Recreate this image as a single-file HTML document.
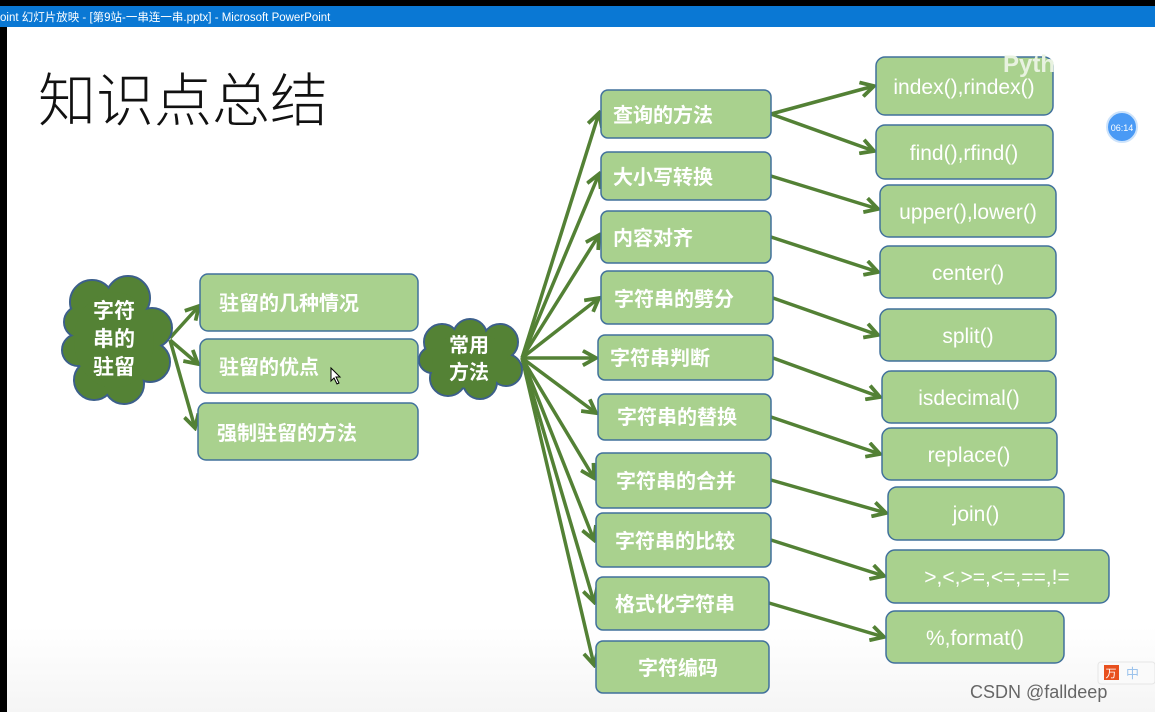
<!DOCTYPE html>
<html><head><meta charset="utf-8"><style>
body{margin:0;width:1155px;height:712px;overflow:hidden;background:#fff;font-family:"Liberation Sans","Noto Sans CJK SC",sans-serif}
</style></head><body>
<svg width="1155" height="712" viewBox="0 0 1155 712" xmlns="http://www.w3.org/2000/svg" style="position:absolute;left:0;top:0">
<defs>
<linearGradient id="bg" x1="0" y1="0" x2="0" y2="1"><stop offset="0.88" stop-color="#fff"/><stop offset="1" stop-color="#f5f5f5"/></linearGradient>
<marker id="ah" viewBox="0 0 12 12" refX="10" refY="6" markerWidth="5" markerHeight="5" orient="auto" markerUnits="strokeWidth">
<polyline points="1,1 10,6 1,11" fill="none" stroke="#538135" stroke-width="2.6" stroke-linejoin="miter"/>
</marker>
</defs>
<rect x="0" y="0" width="1155" height="712" fill="url(#bg)"/>
<rect x="0" y="0" width="1155" height="6" fill="#000"/>
<rect x="0" y="6" width="1155" height="21" fill="#0a78d4"/>
<text x="0" y="21" font-size="11.5" fill="#fff" font-family="Liberation Sans,Noto Sans CJK SC,sans-serif">oint 幻灯片放映 - [第9站-一串连一串.pptx] - Microsoft PowerPoint</text>
<rect x="0" y="27" width="7" height="685" fill="#000"/>
<text x="38" y="121" font-size="58" fill="#111" font-weight="300" font-family="Noto Sans CJK SC,sans-serif">知识点总结</text>

<g stroke="#538135" stroke-width="3.5" fill="none" marker-end="url(#ah)">
<line x1="170" y1="338" x2="199" y2="306"/>
<line x1="170" y1="340" x2="198" y2="364"/>
<line x1="170" y1="340" x2="195" y2="428"/>
<line x1="522" y1="358" x2="599" y2="113"/>
<line x1="522" y1="358" x2="599" y2="174"/>
<line x1="522" y1="358" x2="599" y2="235"/>
<line x1="522" y1="358" x2="599" y2="298"/>
<line x1="522" y1="358" x2="596" y2="358"/>
<line x1="522" y1="358" x2="596" y2="413"/>
<line x1="522" y1="358" x2="594" y2="478"/>
<line x1="522" y1="358" x2="594" y2="540"/>
<line x1="522" y1="358" x2="594" y2="602"/>
<line x1="522" y1="358" x2="594" y2="665"/>
<line x1="771" y1="114" x2="874" y2="86"/>
<line x1="771" y1="114" x2="874" y2="151"/>
<line x1="771" y1="176" x2="878" y2="209"/>
<line x1="771" y1="237" x2="878" y2="272"/>
<line x1="773" y1="298" x2="878" y2="335"/>
<line x1="773" y1="358" x2="880" y2="397"/>
<line x1="771" y1="417" x2="880" y2="454"/>
<line x1="771" y1="480" x2="886" y2="513"/>
<line x1="771" y1="540" x2="884" y2="576"/>
<line x1="769" y1="603" x2="884" y2="637"/>
</g>

<!-- cloud 1 -->
<g stroke="#3c5f8a" stroke-width="2" fill="#548235">
<circle cx="92" cy="302" r="22"/><circle cx="128" cy="298" r="22"/><circle cx="152" cy="328" r="20"/><circle cx="150" cy="362" r="20"/><circle cx="124" cy="384" r="20"/><circle cx="94" cy="380" r="20"/><circle cx="78" cy="350" r="16"/><circle cx="80" cy="322" r="16"/>
</g>
<g fill="#548235">
<circle cx="92" cy="302" r="21"/><circle cx="128" cy="298" r="21"/><circle cx="152" cy="328" r="19"/><circle cx="150" cy="362" r="19"/><circle cx="124" cy="384" r="19"/><circle cx="94" cy="380" r="19"/><circle cx="78" cy="350" r="15"/><circle cx="80" cy="322" r="15"/><ellipse cx="114" cy="340" rx="40" ry="48"/>
</g>
<g font-size="21" fill="#fff" font-weight="bold" text-anchor="middle"><text x="114" y="318">字符</text><text x="114" y="346">串的</text><text x="114" y="374">驻留</text></g>

<!-- cloud 2 -->
<g stroke="#3c5f8a" stroke-width="2" fill="#548235">
<circle cx="442" cy="342" r="18"/><circle cx="470" cy="336" r="17"/><circle cx="500" cy="342" r="18"/><circle cx="506" cy="370" r="16"/><circle cx="480" cy="382" r="17"/><circle cx="448" cy="378" r="18"/><circle cx="432" cy="360" r="13"/>
</g>
<g fill="#548235">
<circle cx="442" cy="342" r="17"/><circle cx="470" cy="336" r="16"/><circle cx="500" cy="342" r="17"/><circle cx="506" cy="370" r="15"/><circle cx="480" cy="382" r="16"/><circle cx="448" cy="378" r="17"/><circle cx="432" cy="360" r="12"/><ellipse cx="470" cy="360" rx="38" ry="28"/>
</g>
<g font-size="20" fill="#fff" font-weight="bold" text-anchor="middle"><text x="469" y="352">常用</text><text x="469" y="379">方法</text></g>

<g fill="#a9d18e" stroke="#41719c" stroke-width="1.5">
<rect x="200" y="274" width="218" height="57" rx="8"/>
<rect x="200" y="339" width="218" height="54" rx="8"/>
<rect x="198" y="403" width="220" height="57" rx="8"/>
<rect x="601" y="90" width="170" height="48" rx="7"/>
<rect x="601" y="152" width="170" height="48" rx="7"/>
<rect x="601" y="211" width="170" height="52" rx="7"/>
<rect x="601" y="271" width="172" height="53" rx="7"/>
<rect x="598" y="335" width="175" height="45" rx="7"/>
<rect x="598" y="394" width="173" height="46" rx="7"/>
<rect x="596" y="453" width="175" height="55" rx="7"/>
<rect x="596" y="513" width="175" height="54" rx="7"/>
<rect x="596" y="577" width="173" height="53" rx="7"/>
<rect x="596" y="641" width="173" height="52" rx="7"/>
<rect x="876" y="57" width="177" height="58" rx="9"/>
<rect x="876" y="125" width="177" height="54" rx="9"/>
<rect x="880" y="185" width="176" height="52" rx="9"/>
<rect x="880" y="246" width="176" height="52" rx="9"/>
<rect x="880" y="309" width="176" height="52" rx="9"/>
<rect x="882" y="371" width="174" height="52" rx="9"/>
<rect x="882" y="428" width="175" height="52" rx="9"/>
<rect x="888" y="487" width="176" height="53" rx="9"/>
<rect x="886" y="550" width="223" height="53" rx="9"/>
<rect x="886" y="611" width="178" height="52" rx="9"/>
</g>
<text x="1003" y="72" font-size="24" fill="#e8f2e0" font-weight="bold">Pyth</text>

<g font-size="20" fill="#fff" font-weight="bold">
<text x="219" y="310">驻留的几种情况</text>
<text x="219" y="374">驻留的优点</text>
<text x="217" y="440">强制驻留的方法</text>
<text x="613" y="122">查询的方法</text>
<text x="613" y="184">大小写转换</text>
<text x="613" y="245">内容对齐</text>
<text x="614" y="306">字符串的劈分</text>
<text x="610" y="365">字符串判断</text>
<text x="617" y="424">字符串的替换</text>
<text x="616" y="488">字符串的合并</text>
<text x="615" y="548">字符串的比较</text>
<text x="615" y="611">格式化字符串</text>
<text x="638" y="675">字符编码</text>
</g>
<g font-size="21" fill="#fff" text-anchor="middle">
<text x="964" y="94">index(),rindex()</text>
<text x="964" y="160">find(),rfind()</text>
<text x="968" y="219">upper(),lower()</text>
<text x="968" y="280">center()</text>
<text x="968" y="343">split()</text>
<text x="969" y="405">isdecimal()</text>
<text x="969" y="462">replace()</text>
<text x="976" y="521">join()</text>
<text x="997" y="584">&gt;,&lt;,&gt;=,&lt;=,==,!=</text>
<text x="975" y="645">%,format()</text>
</g>
<path d="M331 368 l0 13 l3 -3 l3 6 l2 -1 l-3 -6 l4 0 z" fill="#fff" stroke="#000" stroke-width="1"/>
<circle cx="1122" cy="127" r="15" fill="#4a9af5" stroke="#cde3fb" stroke-width="2"/>
<text x="1122" y="131" font-size="9" fill="#fff" text-anchor="middle">06:14</text>
<rect x="1098" y="662" width="57" height="22" rx="3" fill="#fafafa" stroke="#e6e6e6"/>
<rect x="1104" y="665" width="15" height="15" fill="#e8501e"/>
<text x="1111" y="677" font-size="11" fill="#fff" text-anchor="middle">万</text>
<text x="1126" y="678" font-size="13" fill="#9cc3ec">中</text>
<text x="970" y="698" font-size="18" fill="#666">CSDN @falldeep</text>
</svg>
</body></html>
